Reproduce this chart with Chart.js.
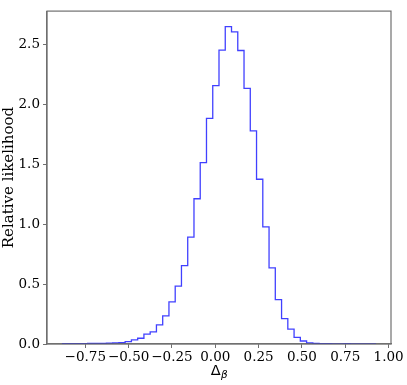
<!DOCTYPE html>
<html>
<head>
<meta charset="utf-8">
<script src="https://cdn.jsdelivr.net/npm/chart.js@4"></script>
<style>
html,body{margin:0;padding:0;background:#fff;}
#wrap{width:407px;height:385px;position:relative;}
</style>
</head>
<body>
<div id="wrap"><canvas id="c" width="407" height="385"></canvas></div>
<script>
// Histogram definition
const binRangeMin = -0.881;
const binRangeMax = 0.924;
const binCount = 50;
const binHeights = [
  0.002, 0.002, 0.003, 0.003, 0.004, 0.005, 0.006, 0.008, 0.010, 0.011,
  0.020, 0.034, 0.048, 0.083, 0.102, 0.160, 0.235, 0.352, 0.483, 0.654,
  0.893, 1.213, 1.515, 1.884, 2.158, 2.454, 2.651, 2.606, 2.451, 2.134,
  1.780, 1.376, 0.978, 0.635, 0.370, 0.212, 0.124, 0.055, 0.025, 0.010,
  0.004, 0.002, 0.002, 0.001, 0.001, 0.002, 0.001, 0.001, 0.001, 0.001
];
const xTicks = [-0.75, -0.50, -0.25, 0.00, 0.25, 0.50, 0.75, 1.00];
const yTicks = [0.0, 0.5, 1.0, 1.5, 2.0, 2.5];
const xLimits = [-0.971, 1.014];
const yLimits = [0, 2.78];

// Build step outline from the histogram
const binW = (binRangeMax - binRangeMin) / binCount;
const edges = [];
for (let i = 0; i <= binCount; i++) edges.push(binRangeMin + i * binW);
const outline = [{x: edges[0], y: 0}];
binHeights.forEach((h, i) => {
  outline.push({x: edges[i], y: h});
  outline.push({x: edges[i + 1], y: h});
});
outline.push({x: edges[binCount], y: 0});

const frameColor = '#707070';

const framePlugin = {
  id: 'frame',
  afterDraw(chart) {
    const {ctx, chartArea: a} = chart;
    ctx.save();
    ctx.strokeStyle = frameColor;
    ctx.lineWidth = 1.2;
    ctx.strokeRect(a.left, a.top, a.right - a.left, a.bottom - a.top);
    // x-axis label: Delta with subscript beta
    const cx = (a.left + a.right) / 2;
    ctx.fillStyle = '#000';
    ctx.textBaseline = 'alphabetic';
    ctx.font = '14.5px "DejaVu Sans"';
    const wD = ctx.measureText('Δ').width;
    ctx.font = 'italic 10.5px "DejaVu Sans"';
    const wB = ctx.measureText('β').width;
    const x0 = cx - (wD + wB) / 2;
    ctx.font = '14.5px "DejaVu Sans"';
    ctx.textAlign = 'left';
    ctx.fillText('Δ', x0, 375);
    ctx.font = 'italic 10.5px "DejaVu Sans"';
    ctx.fillText('β', x0 + wD + 0.5, 378);
    ctx.restore();
  }
};

const tickFont = {family: '"DejaVu Serif"', size: 13.5};

new Chart(document.getElementById('c'), {
  type: 'line',
  data: {
    datasets: [{
      data: outline,
      borderColor: 'rgba(0,0,255,0.75)',
      borderWidth: 1.3,
      pointRadius: 0,
      fill: false,
      tension: 0
    }]
  },
  options: {
    responsive: false,
    animation: false,
    events: [],
    layout: {padding: {left: 0, right: 16, top: 3, bottom: 0}},
    plugins: {legend: {display: false}, tooltip: {enabled: false}},
    scales: {
      x: {
        type: 'linear',
        min: xLimits[0],
        max: xLimits[1],
        afterBuildTicks: (axis) => { axis.ticks = xTicks.map(v => ({value: v})); },
        afterFit: (axis) => { axis.height = 41; },
        grid: {drawOnChartArea: false, drawTicks: true, tickLength: 4, color: frameColor, lineWidth: 1},
        border: {display: true, color: frameColor, width: 1.2},
        ticks: {
          font: tickFont, color: '#000', padding: 1, maxRotation: 0, autoSkip: false,
          callback: (v) => Number(v).toFixed(2).replace('-', '\u2212')
        }
      },
      y: {
        type: 'linear',
        min: yLimits[0],
        max: yLimits[1],
        afterBuildTicks: (axis) => { axis.ticks = yTicks.map(v => ({value: v})); },
        afterFit: (axis) => { axis.width = 47; },
        grid: {drawOnChartArea: false, drawTicks: true, tickLength: 4, color: frameColor, lineWidth: 1},
        border: {display: true, color: frameColor, width: 1.2},
        ticks: {
          font: tickFont, color: '#000', padding: 3, autoSkip: false,
          callback: (v) => Number(v).toFixed(1)
        },
        title: {
          display: true,
          text: 'Relative likelihood',
          font: {family: '"DejaVu Serif"', size: 15},
          color: '#000',
          padding: {top: 0, bottom: 0}
        }
      }
    }
  },
  plugins: [framePlugin]
});
</script>
</body>
</html>
